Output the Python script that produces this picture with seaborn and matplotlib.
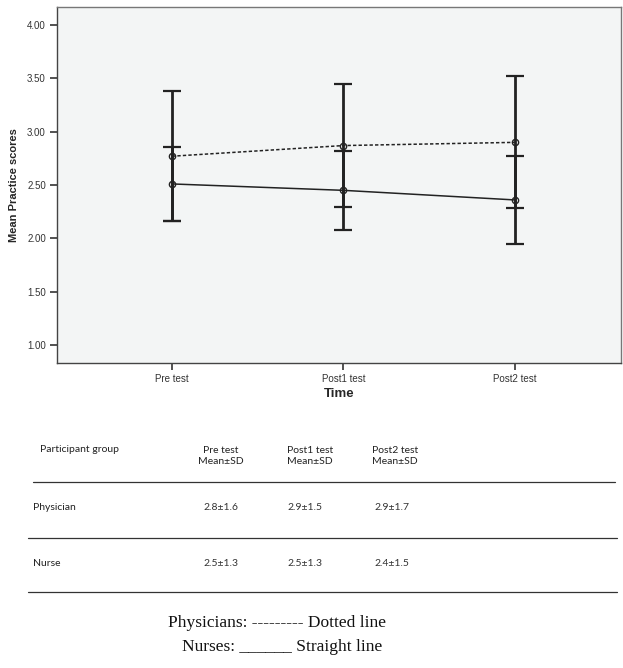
import matplotlib
matplotlib.use("Agg")
import matplotlib.pyplot as plt
import seaborn as sns
import pandas as pd
from matplotlib.lines import Line2D

# ---- data ----
times = ["Pre test", "Post1 test", "Post2 test"]
groups = ["Physician", "Nurse"]
physician_mean = [2.77, 2.87, 2.90]
physician_err = [0.61, 0.58, 0.62]
nurse_mean = [2.51, 2.45, 2.36]
nurse_err = [0.35, 0.37, 0.41]
yticks = [1.00, 1.50, 2.00, 2.50, 3.00, 3.50, 4.00]

table_header = ["Participant group", "Pre test\nMean±SD", "Post1 test\nMean±SD", "Post2 test\nMean±SD"]
table_rows = [["Physician", "2.8±1.6", "2.9±1.5", "2.9±1.7"],
              ["Nurse", "2.5±1.3", "2.5±1.3", "2.4±1.5"]]
legend_lines = ["Physicians: --------- Dotted line", "Nurses: ______ Straight line"]

df = pd.DataFrame({
    "time": times * 2,
    "group": [groups[0]] * 3 + [groups[1]] * 3,
    "mean": physician_mean + nurse_mean,
    "err": physician_err + nurse_err,
})

sns.set_theme(style="white")
plt.rcParams["font.family"] = ["Liberation Sans", "DejaVu Sans"]

W, H = 623, 668
fig = plt.figure(figsize=(W / 100, H / 100), dpi=100)
ax = fig.add_axes([57 / W, 1 - 363 / H, (621 - 57) / W, (363 - 7) / H])
ax.set_facecolor("#f3f5f5")

# error bars
for g in groups:
    sub = df[df["group"] == g]
    xs = [times.index(t) for t in sub["time"]]
    ax.errorbar(xs, sub["mean"], yerr=sub["err"], fmt="none", ecolor="#222222",
                elinewidth=2.0, capsize=6.5, capthick=1.6, zorder=2)

sns.pointplot(data=df, x="time", y="mean", hue="group", order=times, hue_order=groups,
              palette=["#222222", "#222222"], linestyles=[(0, (2.2, 1.4)), "-"], markers=["o", "o"],
              errorbar=None, dodge=False, ax=ax, legend=False,
              markersize=4.5, linewidth=1.1, markerfacecolor="none", markeredgewidth=1.0)

ax.set_xlim(-0.67, 2.62)
ax.set_ylim(0.83, 4.17)
ax.set_yticks(yticks)
ax.set_yticklabels([f"{v:.2f}" for v in yticks], fontsize=7, color="#333333")
ax.set_xticks(range(len(times)))
ax.set_xticklabels(times, fontsize=7, color="#333333")
ax.tick_params(axis="both", which="major", direction="out", length=5, width=1.2,
               color="#333333", left=True, bottom=True, pad=3)
ax.set_xlabel("Time", fontsize=9.5, fontweight="bold", labelpad=3)
ax.set_ylabel("Mean Practice scores", fontsize=8, fontweight="bold", labelpad=6)
for s in ax.spines.values():
    s.set_color("#777777")
    s.set_linewidth(1.0)
ax.spines["left"].set_color("#444444")
ax.spines["bottom"].set_color("#444444")

# ---- table ----
def fy(y):
    return 1 - y / H

tf = ["Lato", "DejaVu Sans"]
fig.text(40 / W, fy(449), table_header[0], fontsize=7.5, family=tf, va="center", ha="left", color="#222222")
hx = [221, 310, 395]
for x, t in zip(hx, table_header[1:]):
    fig.text(x / W, fy(456), t, fontsize=7.5, family=tf, va="center", ha="center",
             color="#222222", linespacing=1.25)
row_y = [507, 563]
for y, row in zip(row_y, table_rows):
    fig.text(33 / W, fy(y), row[0], fontsize=7.5, family=tf, va="center", ha="left", color="#222222")
    for x, t in zip([221, 305, 392], row[1:]):
        fig.text(x / W, fy(y), t, fontsize=7.5, family=tf, va="center", ha="center", color="#333333")

for y, x0, x1 in [(482, 33, 615), (538, 28, 617), (592, 28, 617)]:
    fig.lines.append(Line2D([x0 / W, x1 / W], [fy(y), fy(y)], transform=fig.transFigure,
                            color="#333333", lw=0.9))

sf = ["Liberation Serif", "DejaVu Serif"]
fig.text(277 / W, fy(623), legend_lines[0], fontsize=12.5, family=sf, ha="center", va="center", color="#111111")
fig.text(282 / W, fy(647), legend_lines[1], fontsize=12.5, family=sf, ha="center", va="center", color="#111111")

fig.savefig("out.png", dpi=100, facecolor="white")
